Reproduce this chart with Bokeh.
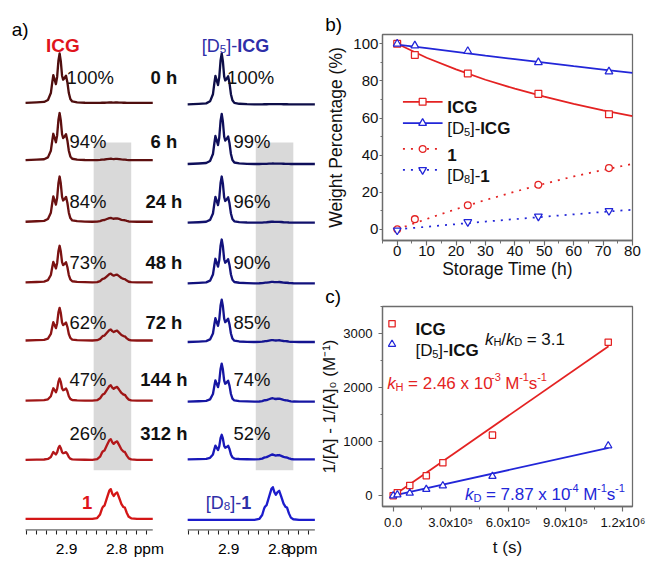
import numpy as np
from bokeh.plotting import figure
from bokeh.models import (Range1d, FixedTicker, SingleIntervalTicker, Label,
                          CustomJSTickFormatter)
from bokeh.layouts import row, column
from bokeh.embed import file_html
from bokeh.resources import INLINE

S = 0.972
FONT = "Liberation Sans"
RED = "#e42222"
BLUE = "#2226d8"
FRAME = "#6c6c6c"

# ---------------- data: (a) 1H NMR traces ----------------
time_labels = ["0 h", "6 h", "24 h", "48 h", "72 h", "144 h", "312 h"]
icg_percent = ["100%", "94%", "84%", "73%", "62%", "47%", "26%"]
d5_percent = ["100%", "99%", "96%", "90%", "85%", "74%", "52%"]
# multiplet of the reactant (ppm, relative intensity)
icg_multiplet_ppm = [2.96, 2.945, 2.9373, 2.9315, 2.9286, 2.9266, 2.9237, 2.9214, 2.9189,
                     2.9163, 2.914, 2.9117, 2.9091, 2.907, 2.9043, 2.9012, 2.8985, 2.8956,
                     2.8926, 2.8888, 2.879, 2.8635]
icg_multiplet_int = [0.01, 0.02, 0.06, 0.2, 0.42, 0.56, 0.46, 0.38, 0.53, 0.86, 1.0, 0.85,
                     0.55, 0.47, 0.5, 0.55, 0.42, 0.2, 0.08, 0.03, 0.012, 0.004]
# multiplet of the product 1
prod_multiplet_ppm = [2.8487, 2.839, 2.8332, 2.8293, 2.8274, 2.8244, 2.8196, 2.8147, 2.8118,
                      2.8089, 2.806, 2.8025, 2.7992, 2.7953, 2.7905, 2.7866, 2.7837, 2.7798,
                      2.7759, 2.771, 2.7594]
prod_multiplet_int = [0.0, 0.03, 0.15, 0.35, 0.41, 0.45, 0.7, 0.95, 1.0, 0.85, 0.77, 0.85,
                      0.89, 0.72, 0.5, 0.4, 0.38, 0.2, 0.07, 0.02, 0.0]
# peak heights of each trace (reactant multiplet, product multiplet); last = pure 1 / [D8]-1
icg_main_height = [51.5, 49, 47, 38, 34, 23, 14.5, 0]
icg_prod_height = [0.5, 1.5, 4, 9, 11.5, 16, 21.5, 31]
d5_main_height = [53, 52, 48, 45.5, 44, 39.5, 25.5, 0]
d5_prod_height = [0.3, 0.5, 1, 1.5, 2, 3.5, 5, 34]
ppm_ticks = [2.9, 2.8]

# ---------------- data: (b) weight percentage ----------------
t_h = [0, 6, 24, 48, 72]
icg_wt = [100, 94, 84, 73, 62]
d5_wt = [100, 99, 96, 90, 85]
p1_wt = [0, 5.5, 13, 24, 33]
d8_t_h = [0, 24, 48, 72]
d8_wt = [-0.5, 4, 7, 10]
fit_t_h = [0, 10, 20, 30, 40, 50, 60, 70, 80]
icg_wt_fit = [100, 92.5, 86.2, 80.6, 75.8, 71.5, 67.6, 64.1, 61.0]
d5_wt_fit = [99.6, 97.6, 95.6, 93.6, 91.7, 89.8, 87.9, 86.1, 84.3]
p1_wt_fit = [0, 5.6, 10.9, 15.8, 20.3, 24.6, 28.5, 32.0, 35.3]
d8_wt_fit = [0, 1.4, 2.8, 4.2, 5.5, 6.8, 8.1, 9.4, 10.6]

# ---------------- data: (c) second-order kinetics ----------------
t_sec = [0, 21600, 86400, 172800, 259200, 518400, 1123200]
icg_inv = [0, 55, 190, 370, 610, 1120, 2840]
d5_inv = [0, 18, 48, 118, 185, 360, 925]
fit_t_sec = [0, 1125000]
icg_inv_fit = [0, 2765]
d5_inv_fit = [0, 885]


def px(v):
    return int(round(v * S))


def fsz(v):
    return f"{v * S:.2f}px"


WR = {' ': 278, '%': 889, '(': 333, ')': 333, '-': 333, '.': 278, '/': 278, '=': 584,
      'A': 667, 'C': 722, 'D': 722, 'G': 778, 'H': 722, 'I': 278, 'M': 833, '[': 278,
      ']': 278, 'k': 500, 's': 500, 'x': 500, 'h': 556, 't': 278, 'a': 556, 'b': 556,
      'c': 500, 'p': 556, 'm': 833}
WB = dict(WR)
WB.update({'h': 611, 'p': 611, 't': 333, 'c': 556})


def tw(s, size, bold):
    tbl = WB if bold else WR
    return sum((556 if ch.isdigit() else tbl.get(ch, 556)) for ch in s) * size / 1000.0


def rich(p, x, y, runs, size, color, align="left"):
    """runs: list of (text, kind, style); kind in n/sub/sup, style normal/bold/italic"""
    items = []
    for t, kind, style in runs:
        f = size * 0.65 if kind in ("sub", "sup") else size
        items.append((t, kind, style, f, tw(t, f, style == "bold")))
    total = sum(i[4] for i in items)
    if align == "center":
        x -= total / 2.0
    elif align == "right":
        x -= total
    for t, kind, style, f, w in items:
        dy = 0.2 * size if kind == "sub" else (-0.4 * size if kind == "sup" else 0)
        lead = len(t) - len(t.lstrip(' '))
        tt = t.strip(' ')
        if tt:
            p.add_layout(Label(x=x + tw(' ' * lead, f, style == "bold"), y=y + dy,
                               x_range_name="px", y_range_name="px", text=tt,
                               text_font=FONT, text_font_size=fsz(f),
                               text_font_style=style, text_color=color,
                               text_align="left", text_baseline="alphabetic"))
        x += w


def panel_title(p, text, frame_left, x_left, size):
    p.title.text = text
    p.title.align = "left"
    p.title.offset = (x_left - frame_left) * S
    p.title.standoff = 0
    p.title.text_font = FONT
    p.title.text_font_size = fsz(size)
    p.title.text_font_style = "normal"
    p.title.text_color = "black"


# =============== panel (a) ===============
PPM_PX = 515.0
X29 = 68.0
SHIFT = 0.3237
WA, HA, FA = 326, 575, 551
pa = figure(width=px(WA), height=px(HA),
            x_range=Range1d(2.9 + X29 / PPM_PX, 2.9 - (WA - X29) / PPM_PX),
            y_range=Range1d(FA, 0), output_backend="svg", toolbar_location=None,
            y_axis_location=None, min_border_left=0, min_border_right=0,
            min_border_top=0, min_border_bottom=px(HA - FA))
pa.extra_x_ranges = {"px": Range1d(0, WA)}
pa.extra_y_ranges = {"px": Range1d(FA, 0)}
pa.grid.visible = False
pa.outline_line_color = None
pa.background_fill_color = None


def px_to_ppm(x):
    return 2.9 - (x - X29) / PPM_PX


# unit label "ppm" is carried by an extra tick at its centre (no tick mark drawn)
ppm_unit_left = round(px_to_ppm(152.5), 5)
ppm_unit_right = round(px_to_ppm(317.5), 5)
minor = [round(v, 3) for v in np.arange(2.98, 2.735, -0.02)]
major = ppm_ticks + [t - SHIFT for t in ppm_ticks]
ax = pa.xaxis[0]
ax.ticker = FixedTicker(ticks=major + [ppm_unit_left, ppm_unit_right],
                        minor_ticks=minor + [m - SHIFT for m in minor])
ax.formatter = CustomJSTickFormatter(
    args=dict(shift=SHIFT, ul=ppm_unit_left, ur=ppm_unit_right),
    code="""
if (Math.abs(tick - ul) < 1e-4 || Math.abs(tick - ur) < 1e-4) return 'ppm';
return (tick > 2.7 ? tick : tick + shift).toFixed(1);
""")
ax.axis_line_color = None
ax.major_tick_line_color = None
ax.minor_tick_in = 0
ax.minor_tick_out = px(4)
ax.minor_tick_line_color = "#222222"
ax.minor_tick_line_width = 1.1 * S
ax.major_label_text_font = FONT
ax.major_label_text_font_size = fsz(16)
ax.major_label_text_color = "black"
ax.major_label_standoff = px(3)

# axis lines of the two columns
pa.segment(x0=[2.982, 2.982 - SHIFT], x1=[2.728, 2.728 - SHIFT], y0=[FA - 0.5] * 2,
           y1=[FA - 0.5] * 2, line_color="#222222", line_width=1.3 * S)
# grey bands marking the product region
pa.quad(left=[2.846, 2.846 - SHIFT], right=[2.771, 2.771 - SHIFT], top=[147.7] * 2,
        bottom=[488.3] * 2, fill_color="#d9d9d9", line_color=None)

icg_base = [106.5, 166, 230, 293, 353.5, 416, 477.5, 539]
d5_base = [108, 170, 231, 294, 355, 417, 477, 540]
icg_colors = ["#4f0e0e", "#5d0f0f", "#6b1111", "#7b1212", "#8d1414", "#a01616",
              "#b4171a", "#d41616"]
d5_colors = ["#0e0e48", "#0f0f5a", "#11116b", "#12127d", "#141490", "#1616a3",
             "#1818b8", "#1c1ccc"]
xs_spec = np.array([2.982] + icg_multiplet_ppm + prod_multiplet_ppm + [2.728])
for col, (mh, ph, base, cols, sh) in enumerate([
        (icg_main_height, icg_prod_height, icg_base, icg_colors, 0.0),
        (d5_main_height, d5_prod_height, d5_base, d5_colors, SHIFT)]):
    for i in range(8):
        inten = np.array([0.0] + [mh[i] * v for v in icg_multiplet_int] +
                         [ph[i] * v for v in prod_multiplet_int] + [0.0])
        pa.line(xs_spec - sh, base[i] - inten, line_color=cols[i],
                line_width=2.4 * S, line_join="round")

# texts of panel a
rich(pa, 11.5, 30.5, [("a)", "n", "normal")], 19.5, "black")
rich(pa, 64.2, 47, [("ICG", "n", "bold")], 19.5, "#e0141c", align="center")
rich(pa, 207, 47, [("[D", "n", "normal"), ("5", "sub", "normal"), ("]-", "n", "normal"),
                   ("ICG", "n", "bold")], 18.5, "#2e2ea8")
row_base = [80.3, 146.8, 209.3, 272.8, 334.3, 393.8, 450.3]
for i in range(7):
    rich(pa, 68 if i == 0 else 71, row_base[i], [(icg_percent[i], "n", "normal")], 19, "#111111")
    rich(pa, 233 if i == 0 else 239.5, row_base[i], [(d5_percent[i], "n", "normal")], 19, "#111111")
    rich(pa, 168, row_base[i], [(time_labels[i], "n", "bold")], 19, "#111111", align="center")
rich(pa, 89.2, 522, [("1", "n", "bold")], 19, "#e0141c", align="center")
rich(pa, 211, 522, [("[D", "n", "normal"), ("8", "sub", "normal"), ("]-", "n", "normal"),
                    ("1", "n", "bold")], 18.5, "#2e2ea8")


def style_frame(p, tick_font, label_font, ytick_out=4, ylab_standoff=2):
    p.grid.visible = False
    p.outline_line_color = FRAME
    p.outline_line_width = 1.3 * S
    p.background_fill_color = None
    for a in p.axis:
        a.axis_line_color = FRAME
        a.axis_line_width = 1.3 * S
        a.major_tick_line_color = FRAME
        a.minor_tick_line_color = FRAME
        a.major_tick_line_width = 1.2 * S
        a.minor_tick_line_width = 1.0 * S
        a.major_tick_in = 0
        a.minor_tick_in = 0
        a.major_tick_out = px(5)
        a.minor_tick_out = px(3)
        a.major_label_text_font = FONT
        a.major_label_text_font_size = fsz(tick_font)
        a.major_label_text_color = "#111111"
        a.axis_label_text_font = FONT
        a.axis_label_text_font_size = fsz(label_font)
        a.axis_label_text_font_style = "normal"
        a.axis_label_text_color = "#111111"
    p.yaxis.major_tick_out = px(ytick_out)
    p.yaxis.minor_tick_out = px(2)
    p.yaxis.major_label_standoff = px(ylab_standoff)


# =============== panel (b) ===============
BX0, BY0 = 326, 0
BW, BH = 340, 290
FL, FR, FT, FB = 388.5, 651.5, 34.5, 247.3
pb = figure(width=px(BW), height=px(BH), x_range=Range1d(-5, 80), y_range=Range1d(-6, 105),
            output_backend="svg", toolbar_location=None,
            min_border_left=px(FL - BX0), min_border_right=px(BX0 + BW - FR),
            min_border_top=px(FT - BY0), min_border_bottom=px(BY0 + BH - FB))
pb.extra_x_ranges = {"px": Range1d(FL, FR)}
pb.extra_y_ranges = {"px": Range1d(FB, FT)}
style_frame(pb, 15.5, 18, ytick_out=3, ylab_standoff=1)
pb.xaxis.ticker = SingleIntervalTicker(interval=10, num_minor_ticks=2)
pb.yaxis.ticker = SingleIntervalTicker(interval=20, num_minor_ticks=2)
pb.xaxis.axis_label = "Storage Time (h)"
pb.yaxis.axis_label = "Weight Percentage (%)"
pb.xaxis.major_label_standoff = 0
pb.xaxis.axis_label_standoff = 0
pb.yaxis.axis_label_standoff = px(4)
panel_title(pb, "b)", FL, 329.5, 19.5)

LW = 1.8 * S
pb.line(fit_t_h, icg_wt_fit, line_color=RED, line_width=LW)
pb.line(fit_t_h, d5_wt_fit, line_color=BLUE, line_width=LW)
pb.line(fit_t_h, p1_wt_fit, line_color=RED, line_width=LW, line_dash="2 6")
pb.line(fit_t_h, d8_wt_fit, line_color=BLUE, line_width=LW, line_dash="2 6")
MK = dict(fill_color="white", line_width=1.3 * S)
pb.scatter(t_h, p1_wt, marker="circle", size=7 * S, line_color=RED, **MK)
pb.scatter(d8_t_h, d8_wt, marker="inverted_triangle", size=8 * S, line_color=BLUE, **MK)
pb.scatter(t_h, icg_wt, marker="square", size=7 * S, line_color=RED, **MK)
pb.scatter(t_h, d5_wt, marker="triangle", size=8 * S, line_color=BLUE, **MK)

# legend of panel b
leg_y = [104, 126, 152.7, 174.3]
leg_col = [RED, BLUE, RED, BLUE]
leg_dash = ["solid", "solid", "2 6", "2 6"]
leg_mk = ["square", "triangle", "circle", "inverted_triangle"]
leg_runs = [[("ICG", "n", "bold")],
            [("[D", "n", "normal"), ("5", "sub", "normal"), ("]-", "n", "normal"), ("ICG", "n", "bold")],
            [("1", "n", "bold")],
            [("[D", "n", "normal"), ("8", "sub", "normal"), ("]-", "n", "normal"), ("1", "n", "bold")]]
for i in range(4):
    pb.segment(x0=[410], x1=[451.7], y0=[leg_y[i]], y1=[leg_y[i]], line_color=leg_col[i],
               line_width=LW, line_dash=leg_dash[i], x_range_name="px", y_range_name="px")
    pb.scatter([430.7], [leg_y[i]], marker=leg_mk[i], size=(7 if i in (0, 2) else 8) * S,
               line_color=leg_col[i], x_range_name="px", y_range_name="px", **MK)
    rich(pb, 456.7, leg_y[i] + 6.1, leg_runs[i], 17.5, "#111111")

# =============== panel (c) ===============
CX0, CY0 = 326, 290
CW, CH = 340, 285
GL, GR, GT, GB = 388.3, 650.7, 315.0, 527.3
pc = figure(width=px(CW), height=px(CH), x_range=Range1d(-5.6e4, 1.25e6),
            y_range=Range1d(-200, 3500), output_backend="svg", toolbar_location=None,
            min_border_left=px(GL - CX0), min_border_right=px(CX0 + CW - GR),
            min_border_top=px(GT - CY0), min_border_bottom=px(CY0 + CH - GB))
pc.extra_x_ranges = {"px": Range1d(GL, GR)}
pc.extra_y_ranges = {"px": Range1d(GB, GT)}
style_frame(pc, 13.5, 17.5, ytick_out=4, ylab_standoff=6)
pc.xaxis.ticker = SingleIntervalTicker(interval=300000, num_minor_ticks=2)
pc.yaxis.ticker = SingleIntervalTicker(interval=1000, num_minor_ticks=2)
pc.xaxis.formatter = CustomJSTickFormatter(code="""
if (Math.abs(tick) < 1) return '0.0';
const e = Math.floor(Math.log10(Math.abs(tick)) + 1e-9);
const m = tick / Math.pow(10, e);
const sup = {'4': '\u2074', '5': '\u2075', '6': '\u2076'};
return m.toFixed(1) + 'x10' + sup[String(e)];
""")
pc.xaxis.major_label_standoff = px(3)
pc.xaxis.axis_label = "t (s)"
pc.xaxis.axis_label_standoff = px(5)
pc.yaxis.axis_label = "1/[A] - 1/[A]\u2080 (M\u207b\u00b9)"
pc.yaxis.axis_label_standoff = px(1)
panel_title(pc, "c)", GL, 329.5, 19.5)

pc.line(fit_t_sec, icg_inv_fit, line_color=RED, line_width=LW)
pc.line(fit_t_sec, d5_inv_fit, line_color=BLUE, line_width=LW)
pc.scatter(t_sec, icg_inv, marker="square", size=6.5 * S, line_color=RED, **MK)
pc.scatter(t_sec, d5_inv, marker="triangle", size=7.5 * S, line_color=BLUE, **MK)

pc.scatter([398.3], [333.3], marker="square", size=6.5 * S, line_color=RED,
           x_range_name="px", y_range_name="px", **MK)
pc.scatter([398.3], [355], marker="triangle", size=7.5 * S, line_color=BLUE,
           x_range_name="px", y_range_name="px", **MK)
rich(pc, 423, 339.5, [("ICG", "n", "bold")], 17.5, "#111111")
rich(pc, 423, 361.5, [("[D", "n", "normal"), ("5", "sub", "normal"), ("]-", "n", "normal"),
                      ("ICG", "n", "bold")], 17.5, "#111111")
rich(pc, 496, 349.5, [("k", "n", "italic"), ("H", "sub", "normal"), ("/", "n", "normal"),
                      ("k", "n", "italic"), ("D", "sub", "normal"), (" = 3.1", "n", "normal")],
     17.5, "#111111")
rich(pc, 393.3, 397, [("k", "n", "italic"), ("H", "sub", "normal"),
                      (" = 2.46 x 10", "n", "normal"), ("-3", "sup", "normal"),
                      (" M", "n", "normal"), ("-1", "sup", "normal"), ("s", "n", "normal"),
                      ("-1", "sup", "normal")], 17.5, RED)
rich(pc, 475, 515, [("k", "n", "italic"), ("D", "sub", "normal"),
                    (" = 7.87 x 10", "n", "normal"), ("-4", "sup", "normal"),
                    (" M", "n", "normal"), ("-1", "sup", "normal"), ("s", "n", "normal"),
                    ("-1", "sup", "normal")], 17.5, BLUE)

layout = row(pa, column(pb, pc))
open("out.html", "w").write(file_html(layout, INLINE))
